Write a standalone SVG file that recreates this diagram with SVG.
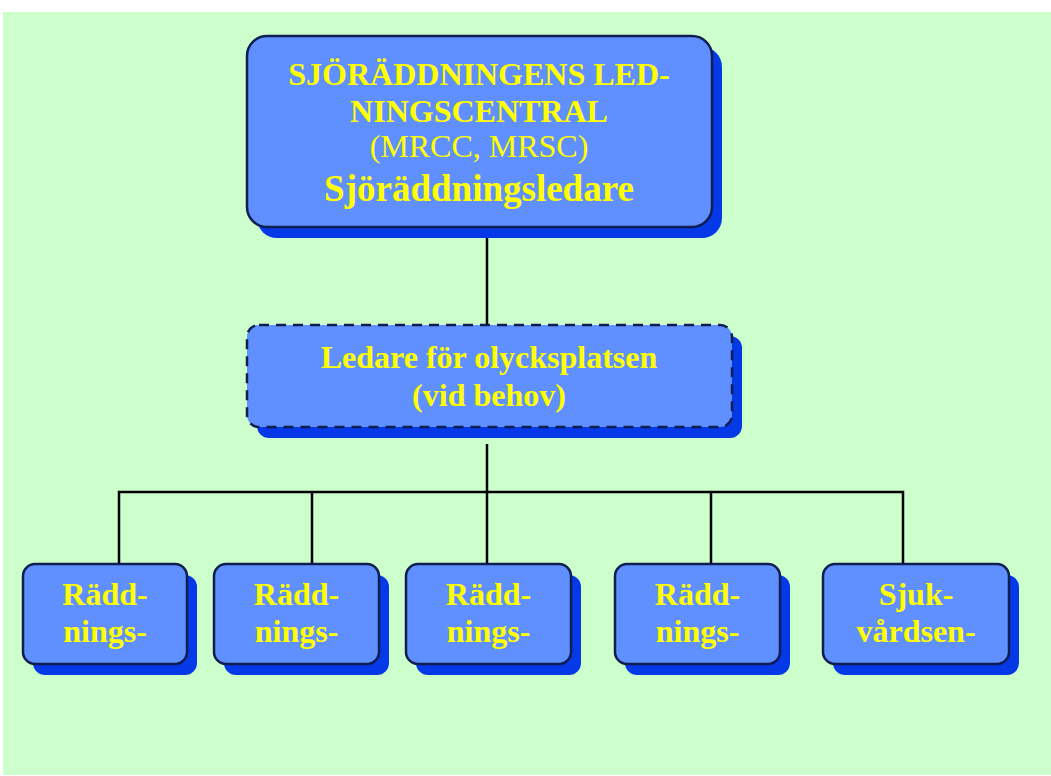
<svg xmlns="http://www.w3.org/2000/svg" width="1051" height="776" viewBox="0 0 1051 776">
<style>
.sh{fill:#0538E6}
.bx{fill:#6090FF;stroke:#0F1E50;stroke-width:2.5}
.dash{stroke-dasharray:10,7}
.t{font-family:"Liberation Serif","Times New Roman",serif;fill:#FFFF00;text-anchor:middle;font-size:32px}
.b{font-weight:bold}
.ln{stroke:#000;stroke-width:2.5;fill:none}
</style>
<rect x="0" y="0" width="1051" height="776" fill="#FFFFFF"/>
<rect x="3" y="12" width="1048" height="763" fill="#CCFFCC"/>
<g id="connectors">
<path class="ln" d="M487 227V325"/>
<path class="ln" d="M487 444V564"/>
<path class="ln" d="M119 564V492H903V564"/>
<path class="ln" d="M312 492V564"/>
<path class="ln" d="M711 492V564"/>
</g>
<g id="n-mrcc">
<rect class="sh" x="257" y="47" width="465" height="191" rx="20"/>
<rect class="bx" x="247" y="36" width="465" height="191" rx="20"/>
<text class="t b" x="479" y="85">SJÖRÄDDNINGENS LED-</text>
<text class="t b" x="479" y="122">NINGSCENTRAL</text>
<text class="t" x="479" y="157">(MRCC, MRSC)</text>
<text class="t b" x="479" y="201" style="font-size:37px">Sjöräddningsledare</text>
</g>
<g id="n-olycksplats">
<rect class="sh" x="257" y="336" width="485" height="102" rx="12"/>
<rect class="bx dash" x="247" y="325" width="485" height="102" rx="12"/>
<text class="t b" x="489" y="368">Ledare för olycksplatsen</text>
<text class="t b" x="489" y="406">(vid behov)</text>
</g>
<g id="n-r1">
<rect class="sh" x="33" y="575" width="164" height="100" rx="12"/>
<rect class="bx" x="23" y="564" width="164" height="100" rx="12"/>
<text class="t b" x="105" y="605">Rädd-</text>
<text class="t b" x="105" y="642">nings-</text>
</g>
<g id="n-r2">
<rect class="sh" x="224" y="575" width="165" height="100" rx="12"/>
<rect class="bx" x="214" y="564" width="165" height="100" rx="12"/>
<text class="t b" x="296.5" y="605">Rädd-</text>
<text class="t b" x="296.5" y="642">nings-</text>
</g>
<g id="n-r3">
<rect class="sh" x="416" y="575" width="165" height="100" rx="12"/>
<rect class="bx" x="406" y="564" width="165" height="100" rx="12"/>
<text class="t b" x="488.5" y="605">Rädd-</text>
<text class="t b" x="488.5" y="642">nings-</text>
</g>
<g id="n-r4">
<rect class="sh" x="625" y="575" width="165" height="100" rx="12"/>
<rect class="bx" x="615" y="564" width="165" height="100" rx="12"/>
<text class="t b" x="697.5" y="605">Rädd-</text>
<text class="t b" x="697.5" y="642">nings-</text>
</g>
<g id="n-sjukvard">
<rect class="sh" x="833" y="575" width="186" height="100" rx="12"/>
<rect class="bx" x="823" y="564" width="186" height="100" rx="12"/>
<text class="t b" x="916" y="605">Sjuk-</text>
<text class="t b" x="916" y="642">vårdsen-</text>
</g>
</svg>
